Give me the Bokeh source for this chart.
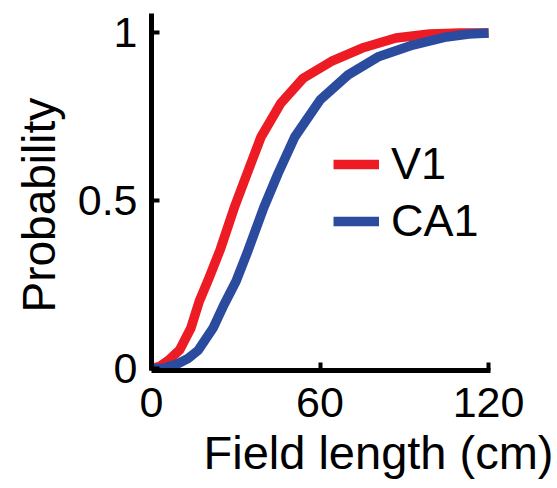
from bokeh.plotting import figure
from bokeh.models import Range1d, Legend, LegendItem, FixedTicker, Title
from bokeh.embed import file_html
from bokeh.resources import INLINE

# Cumulative distributions of place-field length
field_len_v1 = [0, 3, 6, 10, 14, 17, 20.5, 24.5, 29.5, 34, 39, 46, 54, 64, 75, 87, 99, 110, 120]
prob_v1 = [0, 0.006, 0.024, 0.055, 0.12, 0.20, 0.27, 0.355, 0.48, 0.58, 0.69, 0.79, 0.865,
           0.915, 0.955, 0.985, 0.997, 1.0, 1.0]

field_len_ca1 = [0, 4, 9.5, 13, 16.6, 21.9, 25.8, 30.1, 34.3, 40, 45, 51, 60, 70, 81, 93, 105, 113, 120]
prob_ca1 = [0, 0.0, 0.015, 0.03, 0.054, 0.12, 0.19, 0.26, 0.35, 0.48, 0.58, 0.69, 0.80,
            0.875, 0.93, 0.964, 0.988, 0.997, 1.0]

series_names = ["V1", "CA1"]
series_colors = ["#ED1C24", "#2B4C9E"]
x_ticks = [0, 60, 120]
y_ticks = [0, 0.5, 1]
y_tick_labels = {0: "0", 0.5: "0.5", 1: "1"}
x_title = "Field length (cm)"
y_title = "Probability"

FONT = "Liberation Sans"

p = figure(width=557, height=488, output_backend="svg", toolbar_location=None,
           x_range=Range1d(0, 120.7), y_range=Range1d(-0.006, 1.058),
           min_border_left=150, min_border_right=67, min_border_top=13,
           min_border_bottom=118)
p.outline_line_color = None
p.grid.visible = False
p.background_fill_color = "white"
p.border_fill_color = "white"

r1 = p.line(field_len_v1, prob_v1, line_color=series_colors[0], line_width=9.5,
            line_join="round")
r2 = p.line(field_len_ca1, prob_ca1, line_color=series_colors[1], line_width=9.5,
            line_join="round")

for ax in (p.xaxis[0], p.yaxis[0]):
    ax.axis_line_width = 5
    ax.axis_line_color = "black"
    ax.major_tick_line_width = 4
    ax.major_tick_line_color = "black"
    ax.major_tick_in = 8
    ax.major_tick_out = 0
    ax.minor_tick_in = 0
    ax.minor_tick_out = 0
    ax.major_label_text_font = FONT
    ax.major_label_text_font_size = "43px"
    ax.major_label_text_color = "black"

p.xaxis[0].ticker = FixedTicker(ticks=x_ticks)
p.yaxis[0].ticker = FixedTicker(ticks=y_ticks)
p.yaxis[0].major_label_overrides = y_tick_labels
p.xaxis[0].major_label_standoff = 17
p.yaxis[0].major_label_standoff = 14

# axis titles
p.add_layout(Title(text=x_title, align="left", offset=52, standoff=9,
                   text_font=FONT, text_font_size="47px", text_font_style="normal",
                   text_color="black"), "below")
p.add_layout(Title(text=y_title, align="left", offset=58, standoff=20,
                   text_font=FONT, text_font_size="46px", text_font_style="normal",
                   text_color="black"), "left")

legend = Legend(items=[LegendItem(label=series_names[0], renderers=[r1]),
                       LegendItem(label=series_names[1], renderers=[r2])],
                location=(182, 123), orientation="vertical")
legend.label_text_font = FONT
legend.label_text_font_size = "45px"
legend.label_text_color = "black"
legend.glyph_width = 46
legend.glyph_height = 50
legend.label_height = 50
legend.label_standoff = 12
legend.spacing = 5
legend.padding = 0
legend.margin = 0
legend.border_line_color = None
legend.background_fill_alpha = 0
p.add_layout(legend)

open("out.html", "w").write(file_html(p, INLINE))
